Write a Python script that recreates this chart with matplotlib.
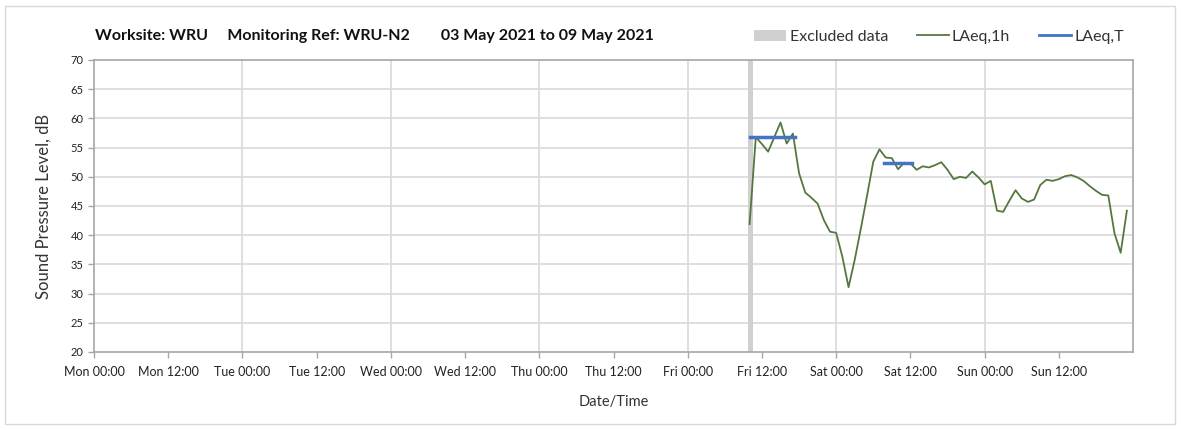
import matplotlib
matplotlib.use('Agg')
import matplotlib.pyplot as plt
from matplotlib.lines import Line2D
from matplotlib.patches import Patch, Rectangle

plt.rcParams['font.family'] = ['Lato', 'DejaVu Sans']

# hours since Mon 00:00 (03 May 2021)
hours = list(range(106, 168))
laeq_1h = [41.9, 56.8, 55.6, 54.3, 56.8, 59.3, 55.7, 57.4, 50.6, 47.3,
           46.4, 45.4, 42.6, 40.6, 40.4, 36.3, 31.1, 35.8, 41.2, 46.8,
           52.6, 54.7, 53.3, 53.2, 51.3, 52.4, 52.3, 51.2, 51.8, 51.6,
           52.0, 52.5, 51.2, 49.6, 50.0, 49.8, 50.9, 49.9, 48.7, 49.3,
           44.2, 44.0, 45.9, 47.7, 46.3, 45.7, 46.1, 48.6, 49.5, 49.3,
           49.6, 50.1, 50.3, 49.9, 49.3, 48.4, 47.6, 46.9, 46.8, 40.3,
           37.0, 44.2]

# LAeq,T periods (start hour, end hour, level)
laeq_t_start = [106.0, 127.7]
laeq_t_end = [113.3, 132.2]
laeq_t_level = [56.8, 52.4]

excluded_start = 105.8
excluded_end = 106.6

tick_hours = list(range(0, 168, 12))
tick_labels = ['Mon 00:00', 'Mon 12:00', 'Tue 00:00', 'Tue 12:00', 'Wed 00:00',
               'Wed 12:00', 'Thu 00:00', 'Thu 12:00', 'Fri 00:00', 'Fri 12:00',
               'Sat 00:00', 'Sat 12:00', 'Sun 00:00', 'Sun 12:00']
day_lines = list(range(24, 168, 24))

green = '#55773f'
blue = '#4472c4'
grey_grid = '#d9d9d9'
spine_col = '#a6a6a6'

fig = plt.figure(figsize=(11.81, 4.30), dpi=100)
ax = fig.add_axes([0.0796, 0.1814, 0.8798, 0.6791])

# outer frame
fig.patches.append(Rectangle((5 / 1181, 6 / 430), 1170 / 1181, 418 / 430,
                             transform=fig.transFigure, fill=False,
                             edgecolor='#d9d9d9', linewidth=1.0))

for y in range(25, 70, 5):
    ax.axhline(y, color=grey_grid, linewidth=1.2, zorder=0)
for d in day_lines:
    ax.axvline(d, color=grey_grid, linewidth=1.2, zorder=0)

ax.axvspan(excluded_start, excluded_end, color='#d0d0d0', linewidth=0, zorder=1)
ax.plot(hours, laeq_1h, color=green, linewidth=1.3, zorder=3)
for s, e, v in zip(laeq_t_start, laeq_t_end, laeq_t_level):
    ax.plot([s, e], [v, v], color=blue, linewidth=2.5, zorder=4)

ax.set_xlim(0, 168)
ax.set_ylim(20, 70)
ax.set_yticks(range(20, 75, 5))
ax.set_xticks(tick_hours)
ax.set_xticklabels(tick_labels)
ax.tick_params(axis='both', colors=spine_col, labelcolor='#222222',
               length=4, width=1)
ax.tick_params(axis='x', pad=6, labelsize=9)
ax.tick_params(axis='y', labelsize=8)
for sp in ax.spines.values():
    sp.set_color(spine_col)
    sp.set_linewidth(1.2)

ax.set_ylabel('Sound Pressure Level, dB', fontsize=12, color='#333333', labelpad=14)
ax.set_xlabel('Date/Time', fontsize=10.5, color='#333333', labelpad=12)

fig.text(95 / 1181, 1 - 36 / 430,
         'Worksite: WRU     Monitoring Ref: WRU-N2        03 May 2021 to 09 May 2021',
         fontsize=11.5, fontweight='bold', va='center', ha='left', color='#111111')

handles = [Patch(facecolor='#d0d0d0', edgecolor='none'),
           Line2D([], [], color=green, linewidth=1.3),
           Line2D([], [], color=blue, linewidth=2.0)]
fig.legend(handles, ['Excluded data', 'LAeq,1h', 'LAeq,T'], ncol=3,
           loc='center right', bbox_to_anchor=(1138 / 1181, 1 - 37 / 430),
           frameon=False, fontsize=11.5, handlelength=2.0, handletextpad=0.2,
           columnspacing=1.8, labelcolor='#333333')

fig.savefig('out.png', dpi=100)
